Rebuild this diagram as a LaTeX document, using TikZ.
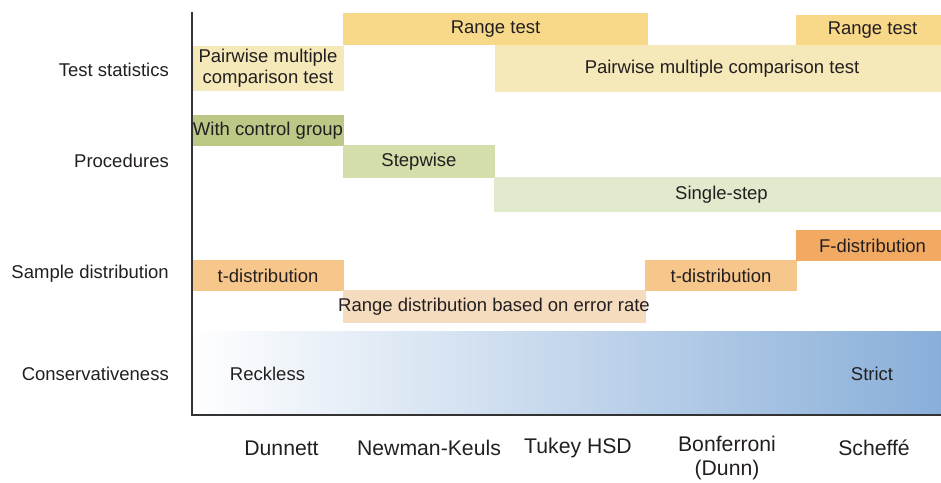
\documentclass[tikz,border=0pt]{standalone}
\usepackage{fontspec}
\setmainfont{Liberation Sans}
\usepackage{tikz}
\usetikzlibrary{calc}
\definecolor{inkgray}{HTML}{231F20}
\definecolor{axisgray}{HTML}{333333}
\definecolor{rangeyellow}{HTML}{F8D989}
\definecolor{pairyellow}{HTML}{F5E8B9}
\definecolor{controlgreen}{HTML}{BBC886}
\definecolor{stepgreen}{HTML}{D4DEAA}
\definecolor{singlegreen}{HTML}{E1EACD}
\definecolor{torange}{HTML}{F7C68B}
\definecolor{forange}{HTML}{F2AA62}
\definecolor{rangepeach}{HTML}{F5DCBF}
\definecolor{strictblue}{HTML}{88AED9}

\begin{document}
\begin{tikzpicture}[x=1pt, y=-1pt,
    every node/.style={text=inkgray, font=\fontsize{18.5}{21}\selectfont, inner sep=0pt},
    rowlabel/.style={anchor=east},
    method/.style={align=center, font=\fontsize{21.2}{24}\selectfont}]
  \clip (0,0) rectangle (941,482);

  % test statistics
  \fill[rangeyellow] (343,13) rectangle (648,45);
  \node (range1) at (495.5,29) {Range test};
  \fill[rangeyellow] (796,15) rectangle (949,45);
  \node (range2) at (872.5,30) {Range test};
  \fill[pairyellow] (192,46) rectangle (344,91);
  \node[align=center] (pair1) at (268,68) {Pairwise multiple\\comparison test};
  \fill[pairyellow] (495,45) rectangle (949,92);
  \node (pair2) at (722,68.5) {Pairwise multiple comparison test};

  % procedures
  \fill[controlgreen] (192,115) rectangle (344,146);
  \node (control) at (268,130.5) {With control group};
  \fill[stepgreen] (343,145) rectangle (495,178);
  \node (stepwise) at (419,161.5) {Stepwise};
  \fill[singlegreen] (494,177) rectangle (949,212);
  \node (single) at (721.5,194.5) {Single-step};

  % sample distribution
  \fill[torange] (192,260) rectangle (344,291);
  \node (tdist1) at (268,275.5) {t-distribution};
  \fill[rangepeach] (343,290) rectangle (646,323);
  \node (rangedist) at (494,306.5) {Range distribution based on error rate};
  \fill[torange] (645,260) rectangle (797,291);
  \node (tdist2) at (721,275.5) {t-distribution};
  \fill[forange] (796,230) rectangle (949,261);
  \node (fdist) at (872.5,245.5) {F-distribution};

  % conservativeness
  \shade[left color=white, right color=strictblue] (192,331) rectangle (949,415);
  \node (reckless) at (267.5,374) {Reckless};
  \node (strict) at (872,374) {Strict};

  % axes
  \draw[axisgray, line width=1.3pt] (192,12) -- (192,415) -- (949,415);

  % row labels
  \node[rowlabel] (teststat) at (169,70) {Test statistics};
  \node[rowlabel] (procedures) at (169,161) {Procedures};
  \node[rowlabel] (sampledist) at (169,274) {Sample distribution};
  \node[rowlabel] (conserv) at (169,374) {Conservativeness};

  % methods
  \node[method] (dunnett) at (281.5,448) {Dunnett};
  \node[method] (newman) at (429,448) {Newman-Keuls};
  \node[method] (tukey) at (578,448) {Tukey HSD};
  \node[method, anchor=north] (bonferroni) at (727,436) {Bonferroni\\(Dunn)};
  \node[method] (scheffe) at (874,448) {Scheffé};
\end{tikzpicture}
\end{document}
